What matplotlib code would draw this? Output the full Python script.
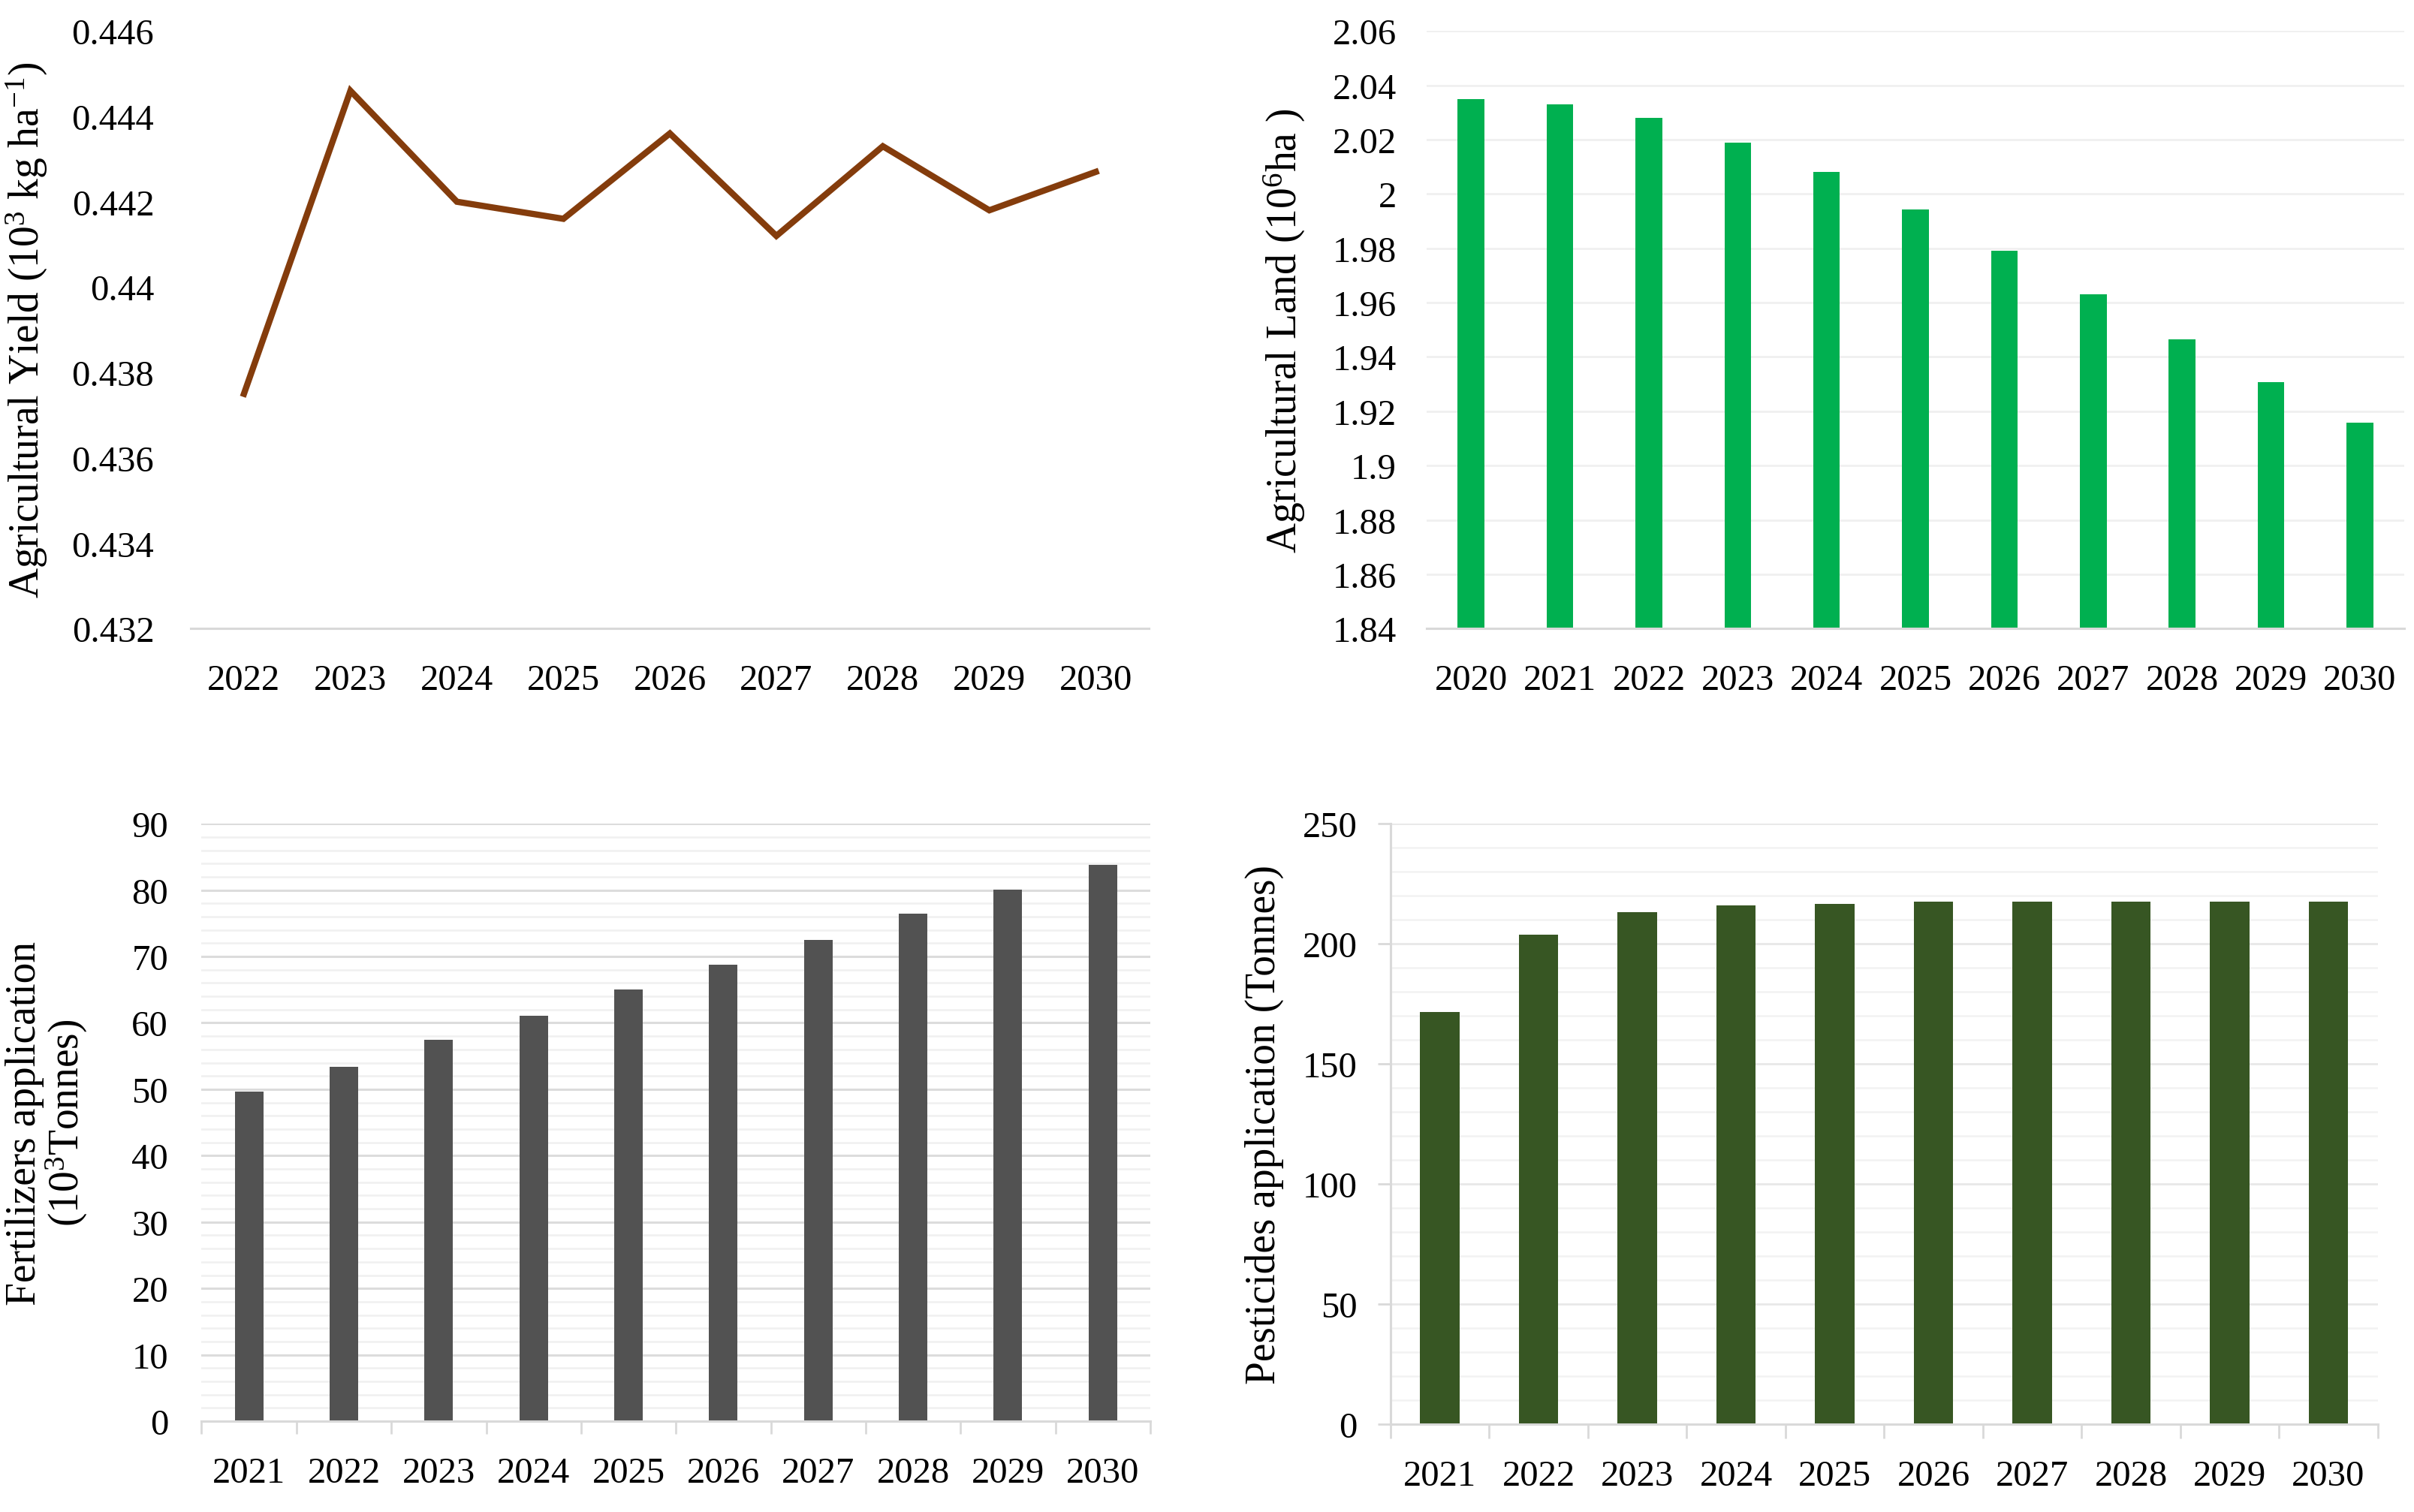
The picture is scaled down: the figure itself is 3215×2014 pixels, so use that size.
import matplotlib
matplotlib.use("Agg")
import matplotlib.pyplot as plt
from matplotlib.ticker import MultipleLocator, FixedLocator
import numpy as np

plt.rcParams["font.family"] = ["Liberation Serif", "DejaVu Serif"]
plt.rcParams["mathtext.fontset"] = "custom"
plt.rcParams["mathtext.rm"] = "Liberation Serif"
plt.rcParams["mathtext.it"] = "Liberation Serif:italic"

# data
yield_years = ["2022", "2023", "2024", "2025", "2026", "2027", "2028", "2029", "2030"]
yield_vals = [0.4375, 0.4446, 0.4420, 0.4416, 0.4436, 0.4412, 0.4433, 0.4418, 0.4427]

land_years = ["2020", "2021", "2022", "2023", "2024", "2025", "2026", "2027", "2028", "2029", "2030"]
land_vals = [2.0348, 2.0331, 2.0280, 2.0190, 2.0082, 1.9942, 1.9792, 1.9630, 1.9466, 1.9307, 1.9157]

fert_years = ["2021", "2022", "2023", "2024", "2025", "2026", "2027", "2028", "2029", "2030"]
fert_vals = [49.7, 53.4, 57.4, 61.1, 65.0, 68.8, 72.5, 76.4, 80.1, 83.8]

pest_years = ["2021", "2022", "2023", "2024", "2025", "2026", "2027", "2028", "2029", "2030"]
pest_vals = [171.7, 203.8, 213.3, 216.1, 216.7, 217.4, 217.4, 217.4, 217.4, 217.4]

FS = 35
LFS = 40
AXC = "#D9D9D9"

fig = plt.figure(figsize=(32.15, 20.15), dpi=100)


def base(ax, n):
    for s in ["top", "right", "left"]:
        ax.spines[s].set_visible(False)
    ax.spines["bottom"].set_color(AXC)
    ax.spines["bottom"].set_linewidth(2.2)
    ax.set_xlim(-0.5, n - 0.5)
    ax.set_axisbelow(True)
    ax.tick_params(axis="y", length=0, labelsize=FS)
    ax.tick_params(axis="x", which="major", length=0, labelsize=FS, pad=34)


# agricultural yield (line)
ax1 = fig.add_axes([0.079, 0.584, 0.397, 0.395])
x = np.arange(len(yield_years))
ax1.plot(x, yield_vals, color="#843C0C", lw=6, solid_joinstyle="miter")
base(ax1, len(yield_years))
ax1.set_ylim(0.432, 0.446)
ax1.set_yticks(np.arange(0.432, 0.4461, 0.002))
ax1.set_yticklabels(["0.432", "0.434", "0.436", "0.438", "0.44", "0.442", "0.444", "0.446"])
ax1.set_xticks(x)
ax1.set_xticklabels(yield_years)
ax1.tick_params(axis="y", pad=35)
ax1.set_ylabel(r"Agricultural Yield (10$^{3}$ kg ha$^{-1}$)", fontsize=LFS)
ax1.yaxis.set_label_coords(-0.147, 0.5)

# agricultural land (bars)
ax2 = fig.add_axes([0.591, 0.584, 0.405, 0.395])
x = np.arange(len(land_years))
ax2.bar(x, np.array(land_vals) - 1.84, bottom=1.84, width=0.3, color="#00B050")
base(ax2, len(land_years))
ax2.set_ylim(1.84, 2.06)
ax2.set_yticks(np.arange(1.84, 2.0601, 0.02))
ax2.set_yticklabels(["1.84", "1.86", "1.88", "1.9", "1.92", "1.94", "1.96", "1.98", "2", "2.02", "2.04", "2.06"])
ax2.yaxis.grid(True, color="#F0F0F0", lw=2)
ax2.set_xticks(x)
ax2.set_xticklabels(land_years)
ax2.tick_params(axis="y", pad=29)
ax2.set_ylabel(r"Agricultural Land (10$^{6}$ha )", fontsize=LFS)
ax2.yaxis.set_label_coords(-0.122, 0.5)

# fertilizers (bars)
ax3 = fig.add_axes([0.0835, 0.060, 0.393, 0.395])
x = np.arange(len(fert_years))
ax3.bar(x, fert_vals, width=0.3, color="#525252")
base(ax3, len(fert_years))
ax3.set_ylim(0, 90)
ax3.yaxis.set_major_locator(MultipleLocator(10))
ax3.yaxis.set_minor_locator(MultipleLocator(2))
ax3.yaxis.grid(True, which="major", color="#DCDCDC", lw=2.2)
ax3.yaxis.grid(True, which="minor", color="#F0F0F0", lw=1.8)
ax3.tick_params(axis="y", which="minor", length=0)
ax3.set_xticks(x)
ax3.set_xticklabels(fert_years)
ax3.xaxis.set_minor_locator(FixedLocator(np.arange(-0.5, len(fert_years), 1)))
ax3.tick_params(axis="x", which="minor", length=12, width=2, color=AXC, direction="out")
ax3.tick_params(axis="y", pad=32)
ax3.set_ylabel("Fertilizers application\n" + r"(10$^{3}$Tonnes)", fontsize=LFS, linespacing=1.0)
ax3.yaxis.set_label_coords(-0.118, 0.5)

# pesticides (bars)
ax4 = fig.add_axes([0.576, 0.058, 0.409, 0.397])
x = np.arange(len(pest_years))
ax4.bar(x, pest_vals, width=0.4, color="#375623")
base(ax4, len(pest_years))
ax4.spines["left"].set_visible(True)
ax4.spines["left"].set_color(AXC)
ax4.spines["left"].set_linewidth(2.2)
ax4.set_ylim(0, 250)
ax4.yaxis.set_major_locator(MultipleLocator(50))
ax4.yaxis.set_minor_locator(MultipleLocator(10))
ax4.yaxis.grid(True, which="major", color="#E8E8E8", lw=2)
ax4.yaxis.grid(True, which="minor", color="#F2F2F2", lw=1.8)
ax4.tick_params(axis="y", which="major", length=12, width=2, color=AXC, pad=20)
ax4.tick_params(axis="y", which="minor", length=0)
ax4.set_xticks(x)
ax4.set_xticklabels(pest_years)
ax4.xaxis.set_minor_locator(FixedLocator(np.arange(-0.5, len(pest_years), 1)))
ax4.tick_params(axis="x", which="minor", length=14, width=2, color=AXC, direction="out")
ax4.set_ylabel("Pesticides application (Tonnes)", fontsize=LFS)
ax4.yaxis.set_label_coords(-0.108, 0.5)

fig.savefig("out.png", dpi=100)
